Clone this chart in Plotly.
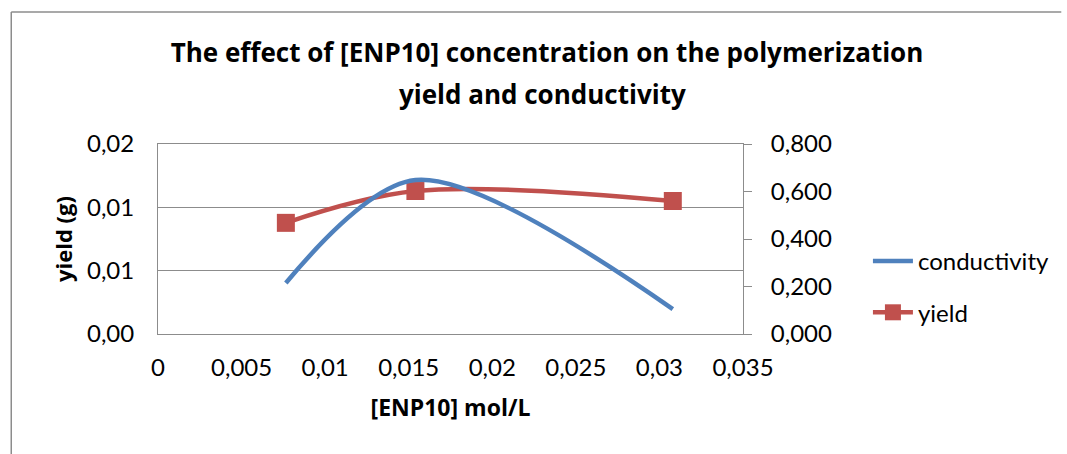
import plotly.graph_objects as go

# Data
concentration = [0.00765, 0.0154, 0.0308]          # [ENP10] mol/L
conductivity = [0.215, 0.648, 0.105]                # right axis
yield_g = [0.0117, 0.01505, 0.0140]                 # left axis, g

x_tick_vals = [0, 0.005, 0.01, 0.015, 0.02, 0.025, 0.03, 0.035]
left_tick_vals = [0, 0.02 / 3, 0.04 / 3, 0.02]
left_tick_text = ["0,00", "0,01", "0,01", "0,02"]
right_tick_vals = [0, 0.2, 0.4, 0.6, 0.8]

title_line1 = "<b>The effect of [ENP10] concentration on the polymerization</b>"
title_line2 = "<b>yield and conductivity</b>"

FONT = "Lato"
BOLD_FONT = "Open Sans"
BLUE = "#4F81BD"
RED = "#C0504D"
GRID = "#8C8C8C"

fig = go.Figure()
fig.add_trace(go.Scatter(
    x=concentration, y=conductivity, name="conductivity", yaxis="y2",
    mode="lines", line=dict(color=BLUE, width=4.5, shape="spline", smoothing=0.9),
    legendgroup="a",
))
fig.add_trace(go.Scatter(
    x=concentration, y=yield_g, name="yield", yaxis="y",
    mode="lines+markers",
    line=dict(color=RED, width=4.5, shape="spline", smoothing=1),
    marker=dict(symbol="square", size=18, color=RED),
    legendgroup="b",
))

W, H = 1067, 454
L, R, T, B = 158, 748, 144, 334
pw, ph = R - L, B - T

def px(x):
    return (x - L) / pw

def py(y):
    return (B - y) / ph

fig.update_layout(
    width=W, height=H,
    margin=dict(l=L, r=W - R, t=T, b=H - B, pad=0),
    paper_bgcolor="white", plot_bgcolor="white",
    separators=", ",
    font=dict(family=FONT, size=24, color="black"),
    title=dict(text=title_line1, x=547 / W, xanchor="center", y=1 - 53 / H, yanchor="middle",
               font=dict(family=BOLD_FONT, size=26, color="black")),
    annotations=[dict(text=title_line2, xref="paper", yref="paper", x=px(546), y=py(94),
                      xanchor="center", yanchor="middle", showarrow=False,
                      font=dict(family=BOLD_FONT, size=26, color="black"))],
    xaxis=dict(
        range=[0, 0.035], tickvals=x_tick_vals, tickformat="~g",
        showgrid=False, zeroline=False, showline=True, linecolor=GRID, linewidth=1,
        mirror=True, ticks="", ticklabelstandoff=12,
        title=dict(text="<b>[ENP10] mol/L</b>", standoff=20,
                   font=dict(family=BOLD_FONT, size=23)),
    ),
    yaxis=dict(
        range=[0, 0.02], tickvals=left_tick_vals, ticktext=left_tick_text,
        showgrid=True, gridcolor=GRID, gridwidth=1, zeroline=False,
        showline=True, linecolor=GRID, linewidth=1, ticks="", ticklabelstandoff=18,
        title=dict(text="<b>yield (g)</b>", standoff=8,
                   font=dict(family=BOLD_FONT, size=22)),
    ),
    yaxis2=dict(
        range=[0, 0.8], tickvals=right_tick_vals, tickformat=".3f",
        overlaying="y", side="right", showgrid=False, zeroline=False,
        showline=True, linecolor=GRID, linewidth=1,
        ticks="outside", ticklen=8, tickcolor=GRID, ticklabelstandoff=14,
    ),
    legend=dict(
        x=px(874), y=py(239), xanchor="left", yanchor="top",
        font=dict(family=FONT, size=24), tracegroupgap=17,
        bgcolor="rgba(0,0,0,0)", itemwidth=40,
    ),
    shapes=[
        dict(type="line", xref="paper", yref="paper",
             x0=px(10), x1=px(10), y0=py(H + 2), y1=py(12),
             line=dict(color="#8C8C8C", width=1.5)),
        dict(type="line", xref="paper", yref="paper",
             x0=px(10), x1=px(W + 2), y0=py(12), y1=py(12),
             line=dict(color="#8C8C8C", width=1.5)),
    ],
)

fig.write_html("out.html", config={"displayModeBar": False},
               post_script="document.body.style.margin='0px';")
